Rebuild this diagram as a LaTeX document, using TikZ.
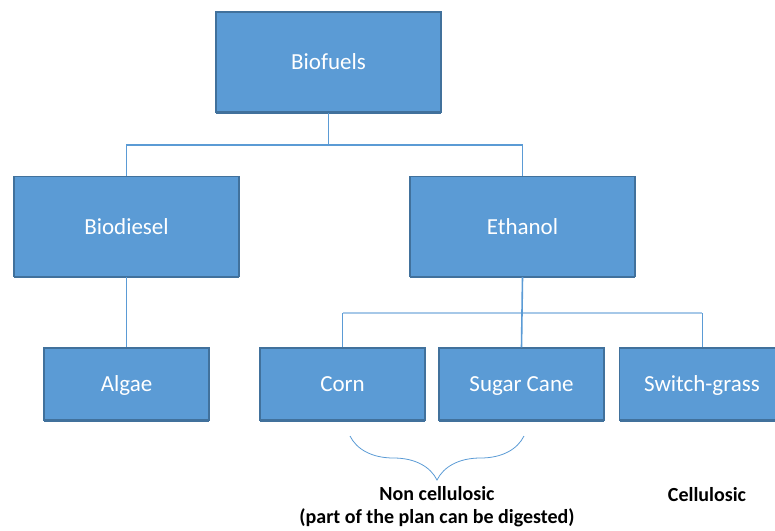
\documentclass[tikz,border=0pt]{standalone}
\usepackage{fontspec}
\setmainfont{Carlito}
\usetikzlibrary{positioning,decorations.pathreplacing,shadows}

\definecolor{boxfill}{HTML}{5B9BD5}
\definecolor{boxline}{HTML}{41719C}
\definecolor{linklight}{HTML}{A6C8E8}

\begin{document}
\begin{tikzpicture}[
x=1pt,y=-1pt,
big/.style={
  draw=boxline,
  fill=boxfill,
  line width=1.2pt,
  text=white,
  minimum width=225pt,
  minimum height=100pt,
  text height=17pt,
  text depth=2pt,
  font=\fontsize{23}{27}\selectfont,
  drop shadow={shadow xshift=0pt,shadow yshift=-1.6pt,fill=boxline,opacity=1}
},
small/.style={
  big,
  minimum width=165pt,
  minimum height=72pt
},
link/.style={
  draw=boxfill,
  line width=1.6pt
},
note/.style={
  align=center,
  text=black,
  font=\fontsize{20}{23}\selectfont\bfseries
}
]
\useasboundingbox (0,0) rectangle (775,530);

\node[big] (biofuels) at (328.5,62) {Biofuels};
\node[big] (biodiesel) at (126.5,226.5) {Biodiesel};
\node[big] (ethanol) at (522.5,226.5) {Ethanol};

\node[small] (algae) at (126.5,384) {Algae};
\node[small] (corn) at (342.5,384) {Corn};
\node[small] (cane) at (521.5,384) {Sugar Cane};
\node[small] (switch) at (702,384) {Switch-grass};

% first level
\coordinate (top) at (328.5,145);
\draw[link] (biofuels.south) -- (top) -| (biodiesel.north);
\draw[link] (top) -| (ethanol.north);
\draw[link] (biodiesel.south) -- (algae.north);

% second level
\coordinate (mid) at (522.5,313);
\draw[draw=linklight,line width=1.6pt] (corn.north |- mid) -- (switch.north |- mid);
\draw[link,line width=1pt] (corn.north |- mid) -- (corn.north);
\draw[link,line width=1pt] (switch.north |- mid) -- (switch.north);
\draw[link] (ethanol.south) -- (cane.north);

\draw[boxfill,line width=0.8pt,decorate,decoration={brace,mirror,amplitude=44pt,aspect=0.5}]
  (350,436) -- (524,436);

\node[note] (noncell) at (437,506.5) {Non cellulosic\\(part of the plan can be digested)};
\node[note] (cell) at (707,495) {Cellulosic};
\end{tikzpicture}
\end{document}
